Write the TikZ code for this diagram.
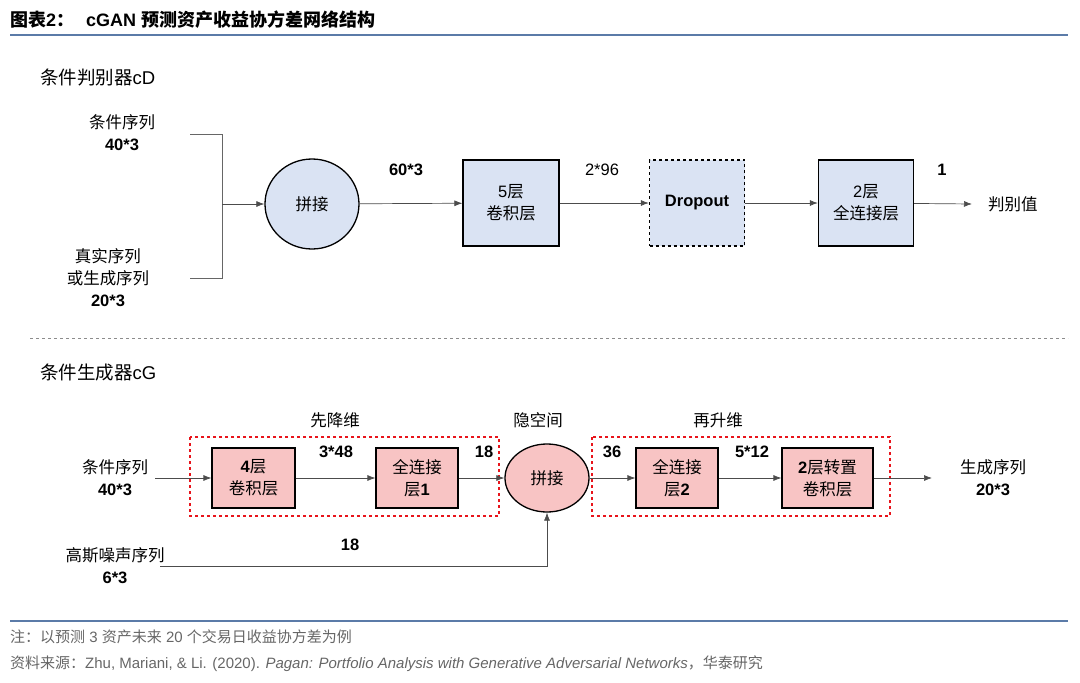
\documentclass[tikz,border=0pt]{standalone}
\usepackage{fontspec}
\setmainfont{Liberation Sans}
\newfontfamily\cjk{Noto Sans CJK SC}
\usetikzlibrary{arrows.meta,shapes.geometric}
\definecolor{hdr}{HTML}{5B7BA8}
\definecolor{lb}{HTML}{DAE3F3}
\definecolor{pk}{HTML}{F8C4C4}
\definecolor{rd}{HTML}{E8141B}
\begin{document}
\begin{tikzpicture}[x=1pt,y=-1pt,
  t/.style={font=\fontsize{16.5}{22}\selectfont,align=center,inner sep=0pt},
  n/.style={font=\fontsize{16.5}{18}\selectfont\bfseries,inner sep=0pt},
  bx/.style={draw=black,line width=1.3pt,minimum width=#1,minimum height=86pt,inner sep=0pt,align=center,font=\fontsize{16.5}{22}\selectfont},
  gb/.style={draw=black,line width=1.2pt,fill=pk,minimum width=#1,minimum height=60pt,inner sep=0pt,align=center,font=\fontsize{16.5}{22}\selectfont},
  ar/.style={draw=black!70,line width=0.7pt,-{Latex[length=8pt,width=6pt]}},
  ln/.style={draw=black!60,line width=0.7pt}]
\useasboundingbox (0,0) rectangle (1080,683);
\node[anchor=west,inner sep=0pt,font=\fontsize{18}{20}\selectfont\bfseries] (title) at (10,20) {{\cjk 图表}2{\cjk ：}\hspace{12pt}cGAN {\cjk 预测资产收益协方差网络结构}};
\draw[hdr,line width=1.2pt] (10,35) -- (1068,35);
% discriminator
\node[anchor=west,inner sep=0pt,font=\fontsize{18.5}{20}\selectfont] (cd) at (40,78) {{\cjk 条件判别器}cD};
\node[t] (in1) at (122,133) {{\cjk 条件序列}\\\textbf{40*3}};
\node[t] (in2) at (108,278) {{\cjk 真实序列}\\{\cjk 或生成序列}\\\textbf{20*3}};
\coordinate (b1) at (190,134); \coordinate (b2) at (222,134);
\coordinate (b3) at (222,278); \coordinate (b4) at (190,278);
\coordinate (bm) at (222,204);
\draw[ln] (b1) -- (b2) -- (b3) -- (b4);
\node[ellipse,draw,line width=1.3pt,fill=lb,minimum width=94pt,minimum height=90pt,inner sep=0pt,font=\fontsize{16.5}{18}\selectfont\cjk] (cat1) at (312,204) {拼接};
\node[bx=96pt,fill=lb] (conv5) at (511,203) {5{\cjk 层}\\{\cjk 卷积层}};
\node[bx=95pt,fill=lb,dashed] (drop) at (697,203) {\bfseries Dropout};
\node[bx=95pt,fill=lb] (fc2) at (866,203) {2{\cjk 层}\\{\cjk 全连接层}};
\node[t,anchor=west] (out1) at (988,204) {\cjk 判别值};
\coordinate (o1) at (972,204);
\draw[ar] (bm) -- (cat1);
\draw[ar] (cat1) -- (conv5);
\draw[ar] (conv5) -- (drop);
\draw[ar] (drop) -- (fc2);
\draw[ar] (fc2) -- (o1);
\node[n] (l1) at (406,170) {60*3};
\node[t] (l2) at (602,170) {2*96};
\node[n] (l3) at (942,170) {1};
\draw[black!45,dashed,line width=0.8pt] (30,338) -- (1068,338);
% generator
\node[anchor=west,inner sep=0pt,font=\fontsize{18.5}{20}\selectfont] (cg) at (40,373) {{\cjk 条件生成器}cG};
\node[t] (h1) at (335,420) {\cjk 先降维};
\node[t] (h2) at (538,420) {\cjk 隐空间};
\node[t] (h3) at (718,420) {\cjk 再升维};
\draw[rd,dashed,line width=1.3pt] (190,437) rectangle (499,516);
\draw[rd,dashed,line width=1.3pt] (592,437) rectangle (890,516);
\node[t] (gin) at (115,478) {{\cjk 条件序列}\\\textbf{40*3}};
\node[t] (noise) at (115,566) {{\cjk 高斯噪声序列}\\\textbf{6*3}};
\node[gb=83pt] (c4) at (253.5,478) {\textbf{4}{\cjk 层}\\{\cjk 卷积层}};
\node[gb=82pt] (fc1) at (417,478) {{\cjk 全连接}\\{\cjk 层}\textbf{1}};
\node[ellipse,draw,line width=1.3pt,fill=pk,minimum width=84pt,minimum height=68pt,inner sep=0pt,font=\fontsize{16.5}{18}\selectfont\cjk] (cat2) at (547,478) {拼接};
\node[gb=82pt] (fcb) at (677,478) {{\cjk 全连接}\\{\cjk 层}\textbf{2}};
\node[gb=91pt] (tc) at (827.5,478) {\textbf{2}{\cjk 层转置}\\{\cjk 卷积层}};
\node[t] (gout) at (993,478) {{\cjk 生成序列}\\\textbf{20*3}};
\coordinate (gi) at (155,478);
\coordinate (go) at (932,478);
\coordinate (ns) at (160,566);
\coordinate (nc) at (547,566);
\draw[ar] (gi) -- (c4);
\draw[ar] (c4) -- (fc1);
\draw[ar] (fc1) -- (cat2);
\draw[ar] (cat2) -- (fcb);
\draw[ar] (fcb) -- (tc);
\draw[ar] (tc) -- (go);
\draw[ar] (ns) -- (nc) -- (cat2);
\node[n] (g1) at (336,452) {3*48};
\node[n] (g2) at (484,452) {18};
\node[n] (g3) at (612,452) {36};
\node[n] (g4) at (752,452) {5*12};
\node[n] (g5) at (350,545) {18};
% footer
\draw[hdr,line width=1.2pt] (10,621) -- (1068,621);
\node[anchor=west,inner sep=0pt,text=black!60,font=\fontsize{15}{16}\selectfont] (f1) at (10,637) {{\cjk 注：以预测} 3 {\cjk 资产未来} 20 {\cjk 个交易日收益协方差为例}};
\node[anchor=west,inner sep=0pt,text=black!60,font=\fontsize{15}{16}\selectfont] (f2) at (10,664) {{\cjk 资料来源：}Zhu, Mariani, \& Li. (2020). \textit{Pagan: Portfolio Analysis with Generative Adversarial Networks}{\cjk ，华泰研究}};
\end{tikzpicture}
\end{document}
